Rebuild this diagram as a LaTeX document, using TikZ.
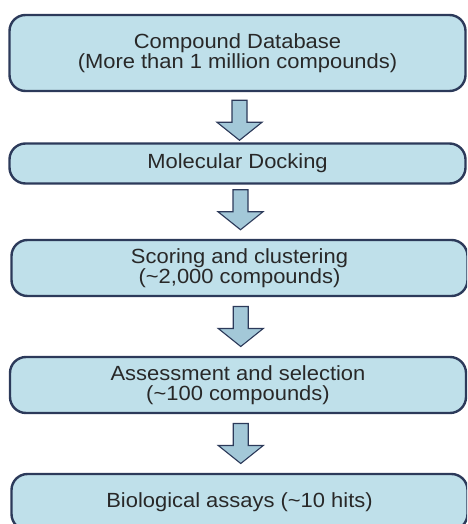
\documentclass[tikz,border=0pt]{standalone}
\usepackage{fontspec}
\setmainfont{Liberation Sans}[FakeStretch=1.07]
\usetikzlibrary{calc}

\definecolor{boxfill}{RGB}{191,224,234}
\definecolor{boxline}{RGB}{44,58,90}
\definecolor{arrfill}{RGB}{163,200,216}
\definecolor{txt}{RGB}{40,40,40}

\tikzset{
  stage/.style={draw=boxline, line width=2.4pt, fill=boxfill, rounded corners=16pt,
    minimum width=456pt, inner sep=0pt, align=center, text=txt,
    font=\fontsize{20.5}{19.5}\selectfont},
  blockarrow/.style={draw=boxline, line width=1.1pt, fill=arrfill, line join=miter}
}

\begin{document}
\begin{tikzpicture}[x=1pt,y=-1pt]
  \useasboundingbox (0,0) rectangle (467,524);
  \clip (0,0) rectangle (467,524);
  % the five stages
  \draw
    (237.5,53) node[stage, minimum height=76pt] (db)
      {Compound Database\\(More than 1 million compounds)}
    (237.5,163.5) node[stage, minimum height=40pt] (dock) {Molecular Docking}
    (239.5,268) node[stage, minimum height=56pt] (score)
      {Scoring and clustering\\(\textasciitilde2,000 compounds)}
    (238,385) node[stage, minimum height=56pt] (assess)
      {Assessment and selection\\(\textasciitilde100 compounds)}
    (239.5,502) node[stage, minimum height=56pt] (assay)
      {Biological assays (\textasciitilde10 hits)};
  % block arrows between them
  \foreach \a/\b/\s in {db/dock/3, dock/score/-2, score/assess/0, assess/assay/0}
    \draw[blockarrow] ($(\a.south)!0.5!(\b.north)$) ++(-5.5,\s-20)
      -- ++(15,0) -- ++(0,22) -- ++(15,0) -- ++(-22.5,18)
      -- ++(-22.5,-18) -- ++(15,0) -- cycle;
\end{tikzpicture}
\end{document}
